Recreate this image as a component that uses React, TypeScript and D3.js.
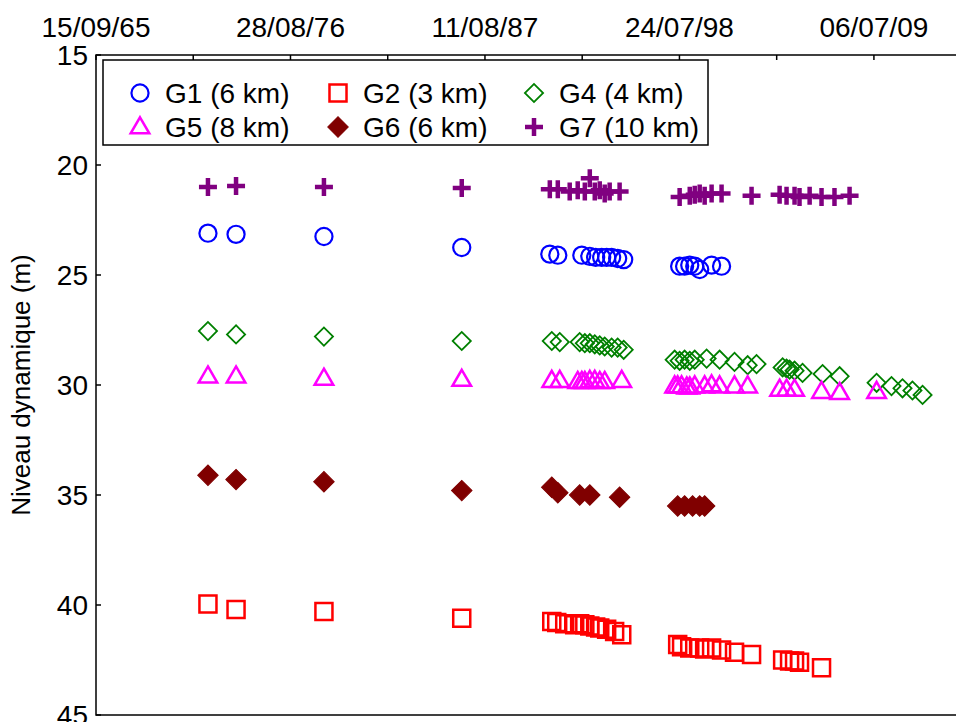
import React from 'react';
import * as d3 from 'd3';

// dates are read as decimal years off the picture
const G1_DATES = [1972.01, 1973.59, 1978.54, 1986.30, 1991.26, 1991.71, 1993.06, 1993.51, 1993.84, 1994.18, 1994.46, 1994.74, 1995.08, 1995.42,
    1998.57, 1998.85, 1999.14, 1999.42, 1999.70, 2000.37, 2000.93];
const G1_VALUES = [23.1, 23.15, 23.25, 23.75, 24.05, 24.1, 24.1, 24.15, 24.2, 24.2, 24.2, 24.2, 24.25, 24.3,
    24.6, 24.6, 24.55, 24.6, 24.75, 24.55, 24.6];

const G2_DATES = [1972.01, 1973.59, 1978.54, 1986.30, 1991.37, 1991.65, 1992.10, 1992.66, 1992.94, 1993.23, 1993.51, 1993.84, 1994.07, 1994.46, 1994.91, 1995.31,
    1998.46, 1998.68, 1999.14, 1999.70, 1999.98, 2000.37, 2000.93, 2001.66, 2002.62,
    2004.37, 2004.76, 2005.04, 2005.32, 2006.56];
const G2_VALUES = [39.95, 40.2, 40.3, 40.6, 40.75, 40.8, 40.85, 40.9, 40.85, 40.9, 40.95, 41.0, 41.05, 41.1, 41.2, 41.35,
    41.8, 41.9, 41.95, 41.95, 42.0, 41.95, 42.05, 42.15, 42.25,
    42.5, 42.55, 42.55, 42.6, 42.85];

const G4_DATES = [1972.01, 1973.59, 1978.54, 1986.30, 1991.37, 1991.82, 1992.94, 1993.23, 1993.51, 1993.79, 1994.07, 1994.35, 1994.74, 1995.08, 1995.42,
    1998.29, 1998.57, 1998.85, 1999.14, 1999.42, 2000.09, 2000.82, 2001.66, 2002.40, 2002.90,
    2004.37, 2004.59, 2004.76, 2005.04, 2005.49, 2006.62, 2007.58,
    2009.66, 2010.50, 2011.12, 2011.68, 2012.25];
const G4_VALUES = [27.55, 27.7, 27.8, 28.0, 28.0, 28.05, 28.05, 28.1, 28.1, 28.15, 28.2, 28.25, 28.3, 28.3, 28.4,
    28.85, 28.9, 28.85, 28.9, 28.85, 28.8, 28.85, 28.95, 29.1, 29.05,
    29.2, 29.25, 29.3, 29.35, 29.45, 29.5, 29.6,
    29.9, 30.05, 30.15, 30.25, 30.45];

const G5_DATES = [1972.01, 1973.59, 1978.54, 1986.30, 1991.37, 1991.82, 1992.83, 1993.06, 1993.23, 1993.51, 1993.79, 1994.07, 1994.35, 1995.31,
    1998.29, 1998.46, 1998.68, 1998.97, 1999.14, 1999.42, 1999.98, 2000.37, 2000.82, 2001.66, 2002.40,
    2004.20, 2004.59, 2005.04, 2006.56, 2007.58,
    2009.66];
const G5_VALUES = [29.6, 29.6, 29.7, 29.75, 29.8, 29.8, 29.85, 29.85, 29.85, 29.8, 29.8, 29.85, 29.85, 29.8,
    30.05, 30.05, 30.05, 30.1, 30.1, 30.05, 30.05, 30.0, 30.05, 30.05, 30.05,
    30.2, 30.2, 30.2, 30.3, 30.35,
    30.3];

const G6_DATES = [1972.01, 1973.59, 1978.54, 1986.30, 1991.37, 1991.71, 1992.94, 1993.51, 1995.19,
    1998.46, 1998.85, 1999.30, 1999.70, 1999.98];
const G6_VALUES = [34.1, 34.3, 34.4, 34.8, 34.65, 34.9, 35.0, 35.0, 35.1,
    35.5, 35.5, 35.5, 35.5, 35.5];

const G7_DATES = [1972.01, 1973.59, 1978.54, 1986.30, 1991.26, 1991.71, 1992.38, 1992.83, 1993.23, 1993.51, 1993.79, 1994.07, 1994.35, 1994.63, 1995.19,
    1998.57, 1999.14, 1999.42, 1999.70, 1999.98, 2000.37, 2000.93, 2002.62,
    2004.20, 2004.59, 2005.04, 2005.32, 2005.89, 2006.56, 2007.29, 2008.14];
const G7_VALUES = [21.0, 20.95, 21.0, 21.05, 21.1, 21.1, 21.2, 21.15, 21.2, 20.6, 21.2, 21.15, 21.3, 21.2, 21.2,
    21.45, 21.4, 21.35, 21.3, 21.4, 21.3, 21.3, 21.4,
    21.35, 21.4, 21.4, 21.45, 21.4, 21.45, 21.45, 21.4];

const X_TICK_DATES = ['1965-09-15', '1976-08-28', '1987-08-11', '1998-07-24', '2009-07-06'];
const X_TICK_LABELS = ['15/09/65', '28/08/76', '11/08/87', '24/07/98', '06/07/09'];
const Y_TICKS = [15, 20, 25, 30, 35, 40, 45];

const W = 956, H = 722;
const margin = { left: 96, top: 55, right: 961, bottom: 715 };
const FONT = 'Liberation Sans, Arial, sans-serif';

const fromYear = (y: number) => {
    const yr = Math.floor(y);
    const a = new Date(yr, 0, 1).getTime();
    const b = new Date(yr + 1, 0, 1).getTime();
    return new Date(a + (y - yr) * (b - a));
};

const x = d3.scaleTime()
    .domain([new Date(1965, 8, 15), new Date(2014, 5, 1)])
    .range([margin.left, margin.right]);
const y = d3.scaleLinear().domain([15, 45]).range([margin.top, margin.bottom]);

const majorTicks = X_TICK_DATES.map(s => d3.timeParse('%Y-%m-%d')(s) as Date);
const minorTicks = majorTicks.slice(0, -1).map((d, i) => new Date((d.getTime() + majorTicks[i + 1].getTime()) / 2));

// marker shapes
const circlePath = d3.symbol(d3.symbolCircle, 230)() as string;
const squarePath = d3.symbol(d3.symbolSquare, 290)() as string;
const trianglePath = d3.symbol(d3.symbolTriangle, 150)() as string;
const diamondPath = d3.symbol(d3.symbolSquare, 165)() as string;
const filledDiamondPath = d3.symbol(d3.symbolSquare, 210)() as string;

type Shape = 'circle' | 'square' | 'diamond' | 'triangle' | 'fdiamond' | 'plus';

const Marker: React.FC<{ shape: Shape; color: string; cx: number; cy: number }> = ({ shape, color, cx, cy }) => {
    const t = `translate(${cx},${cy})`;
    switch (shape) {
        case 'circle':
            return <path transform={t} d={circlePath} fill="none" stroke={color} strokeWidth={2.2} />;
        case 'square':
            return <path transform={t} d={squarePath} fill="none" stroke={color} strokeWidth={2.5} />;
        case 'diamond':
            return <path transform={`${t} rotate(45)`} d={diamondPath} fill="none" stroke={color} strokeWidth={1.8} />;
        case 'triangle':
            return <path transform={`${t} translate(0,1)`} d={trianglePath} fill="none" stroke={color} strokeWidth={2.5} />;
        case 'fdiamond':
            return <path transform={`${t} rotate(45)`} d={filledDiamondPath} fill={color} stroke={color} strokeWidth={1} />;
        default:
            return <path transform={t} d="M-9,0H9M0,-9V9" fill="none" stroke={color} strokeWidth={4.5} />;
    }
};

const SERIES: { label: string; dates: number[]; values: number[]; color: string; shape: Shape }[] = [
    { label: 'G1 (6 km)', dates: G1_DATES, values: G1_VALUES, color: '#0000ff', shape: 'circle' },
    { label: 'G2 (3 km)', dates: G2_DATES, values: G2_VALUES, color: '#ff0000', shape: 'square' },
    { label: 'G4 (4 km)', dates: G4_DATES, values: G4_VALUES, color: '#008000', shape: 'diamond' },
    { label: 'G5 (8 km)', dates: G5_DATES, values: G5_VALUES, color: '#ff00ff', shape: 'triangle' },
    { label: 'G6 (6 km)', dates: G6_DATES, values: G6_VALUES, color: '#800000', shape: 'fdiamond' },
    { label: 'G7 (10 km)', dates: G7_DATES, values: G7_VALUES, color: '#800080', shape: 'plus' },
];

const App: React.FC = () => {
    const legendCols = [140, 338, 534];
    const legendRows = [93, 127];

    return (
        <svg width={W} height={H} style={{ position: 'absolute', left: 0, top: 0, background: '#fff' }}
            fontFamily={FONT}>
            {/* frame */}
            <rect x={margin.left} y={margin.top} width={margin.right - margin.left} height={margin.bottom - margin.top}
                fill="none" stroke="#000" strokeWidth={1.5} />

            {/* top time axis */}
            {[...majorTicks, ...minorTicks].map((d, i) => (
                <line key={'xt' + i} x1={x(d)} x2={x(d)} y1={margin.top} y2={margin.top + 5} stroke="#000" strokeWidth={1.5} />
            ))}
            {majorTicks.map((d, i) => (
                <text key={'xl' + i} x={x(d)} y={margin.top - 18} textAnchor="middle" fontSize={28}>{X_TICK_LABELS[i]}</text>
            ))}

            {/* left axis */}
            {Y_TICKS.map(v => (
                <g key={'yt' + v}>
                    <line x1={margin.left} x2={margin.left + 5} y1={y(v)} y2={y(v)} stroke="#000" strokeWidth={1.5} />
                    <text x={margin.left - 8} y={y(v)} dy="0.36em" textAnchor="end" fontSize={28}>{v}</text>
                </g>
            ))}
            <text transform={`translate(30,${(margin.top + margin.bottom) / 2}) rotate(-90)`} textAnchor="middle"
                fontSize={26}>Niveau dynamique (m)</text>

            {/* points */}
            {SERIES.map(s => (
                <g key={s.label}>
                    {s.dates.map((d, i) => (
                        <Marker key={i} shape={s.shape} color={s.color} cx={x(fromYear(d))} cy={y(s.values[i])} />
                    ))}
                </g>
            ))}

            {/* legend */}
            <rect x={103} y={60} width={605} height={85} fill="#fff" stroke="#000" strokeWidth={1.5} />
            {SERIES.map((s, i) => {
                const cx = legendCols[i % 3];
                const cy = legendRows[Math.floor(i / 3)];
                return (
                    <g key={'lg' + i}>
                        <Marker shape={s.shape} color={s.color} cx={cx} cy={cy} />
                        <text x={cx + 25} y={cy} dy="0.36em" fontSize={28}>{s.label}</text>
                    </g>
                );
            })}
        </svg>
    );
};

export default App;
